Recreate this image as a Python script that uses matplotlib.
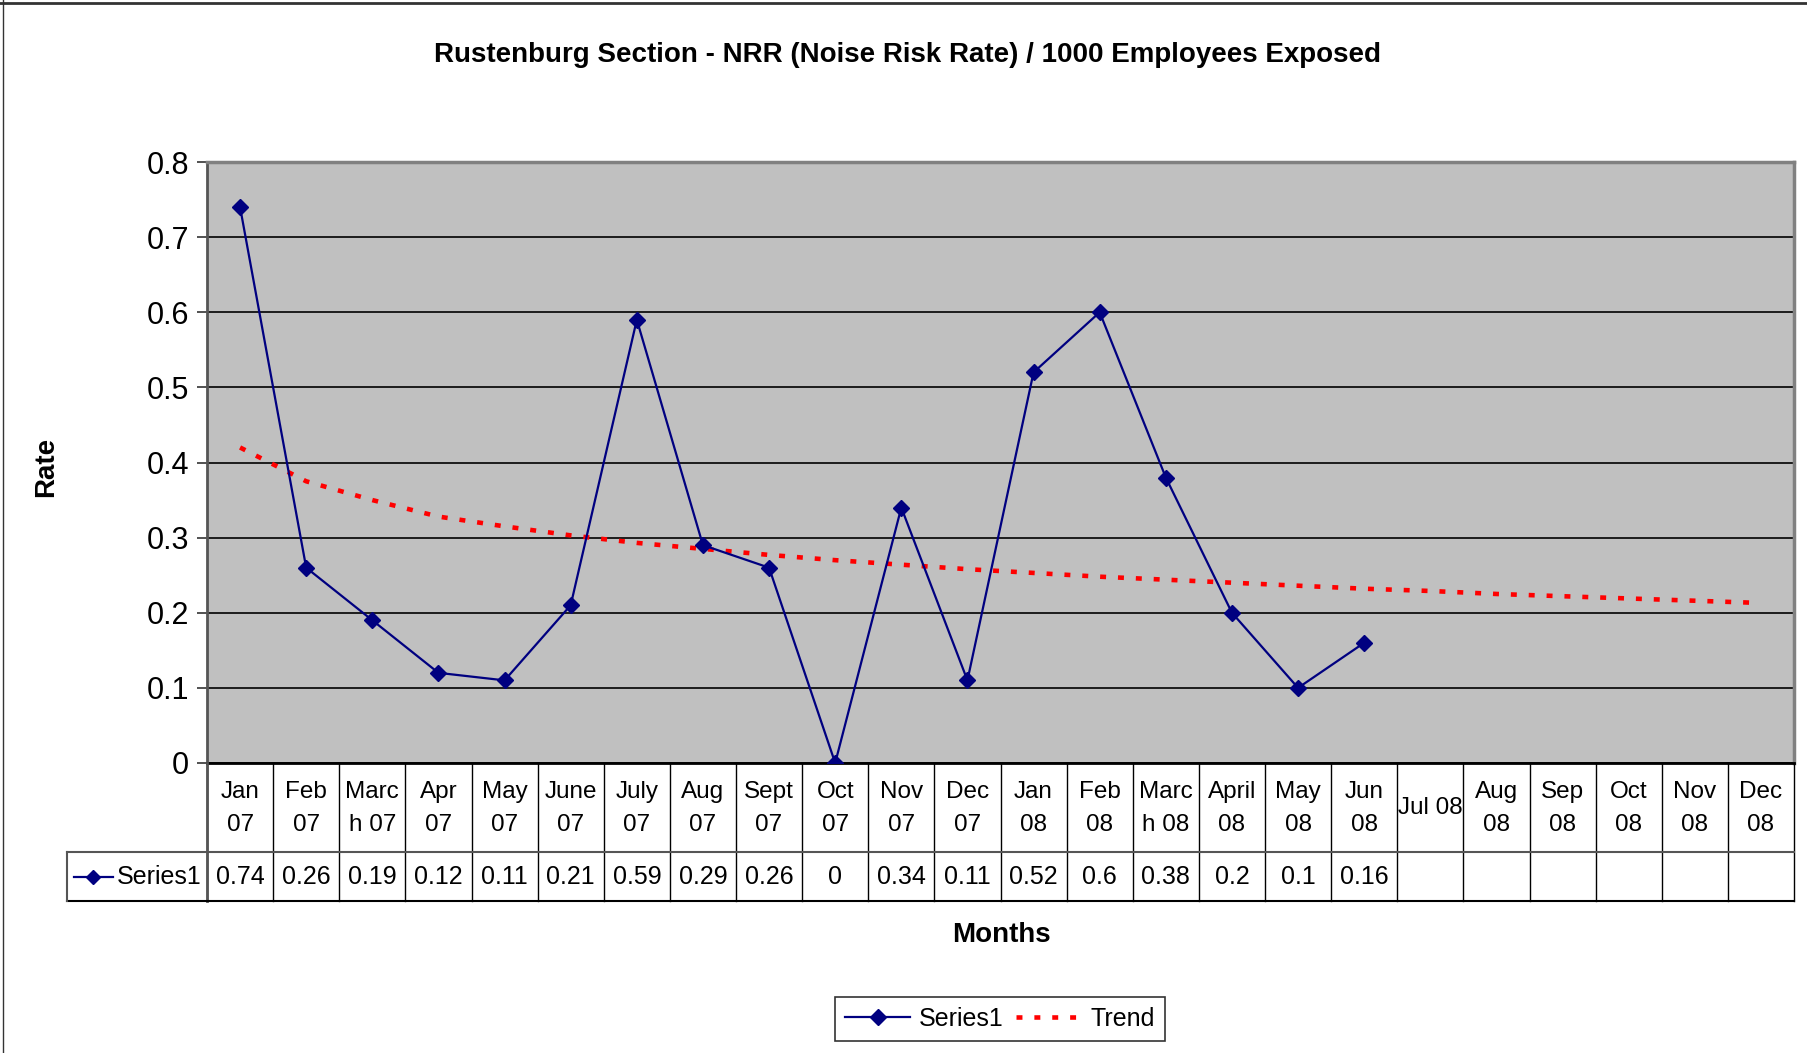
import matplotlib
matplotlib.use("Agg")
import matplotlib.pyplot as plt
from matplotlib.lines import Line2D

plt.rcParams["font.family"] = ["Liberation Sans Narrow", "Liberation Sans", "DejaVu Sans"]

months = ["Jan\n07", "Feb\n07", "Marc\nh 07", "Apr\n07", "May\n07", "June\n07",
          "July\n07", "Aug\n07", "Sept\n07", "Oct\n07", "Nov\n07", "Dec\n07",
          "Jan\n08", "Feb\n08", "Marc\nh 08", "April\n08", "May\n08", "Jun\n08",
          "Jul 08", "Aug\n08", "Sep\n08", "Oct\n08", "Nov\n08", "Dec\n08"]
series1 = [0.74, 0.26, 0.19, 0.12, 0.11, 0.21, 0.59, 0.29, 0.26, 0, 0.34, 0.11,
           0.52, 0.6, 0.38, 0.2, 0.1, 0.16]
# trend line
trend = [0.42, 0.375, 0.35, 0.328, 0.315, 0.303, 0.293, 0.285, 0.277, 0.27, 0.264, 0.258,
         0.253, 0.248, 0.244, 0.240, 0.236, 0.232, 0.229, 0.225, 0.222, 0.219, 0.216, 0.213]

W, H = 1807, 1053
fig = plt.figure(figsize=(W / 100, H / 100), dpi=100)


def px(x0, y0, x1, y1):
    return [x0 / W, 1 - y1 / H, (x1 - x0) / W, (y1 - y0) / H]


left, right, top, bottom = 207, 1794, 162, 763
tab_left, tab_mid, tab_bot = 67, 852, 901

ax = fig.add_axes(px(left, top, right, bottom))
ax.set_facecolor("#c0c0c0")
n = len(months)
ax.set_xlim(-0.5, n - 0.5)
ax.set_ylim(0, 0.8)
ax.set_yticks([0, 0.1, 0.2, 0.3, 0.4, 0.5, 0.6, 0.7, 0.8])
ax.set_yticklabels(["0", "0.1", "0.2", "0.3", "0.4", "0.5", "0.6", "0.7", "0.8"], fontsize=22)
ax.set_xticks([])
ax.tick_params(axis="y", length=7, width=1.2, color="#333333", pad=6)
ax.grid(axis="y", color="black", linewidth=1.2)
ax.set_axisbelow(True)
for s in ["top", "right"]:
    ax.spines[s].set_color("#808080")
    ax.spines[s].set_linewidth(2.5)
ax.spines["left"].set_color("#555555")
ax.spines["left"].set_linewidth(2)
ax.spines["bottom"].set_color("black")
ax.spines["bottom"].set_linewidth(2)

x_trend = list(range(len(trend)))
x_ser = list(range(len(series1)))
ax.plot(x_trend, trend, color="#ff0000", linewidth=3.3, dashes=(1.3, 2.6),
        dash_capstyle="butt", label="Trend", zorder=3)
ax.plot(x_ser, series1, color="#000080", linewidth=1.6, marker="D", markersize=8.5,
        label="Series1", zorder=4)

# data table below the plot
unit = (right - left) / n
tax = fig.add_axes(px(tab_left, bottom, right, tab_bot))
tax.set_xlim(-0.5 - (left - tab_left) / unit, n - 0.5)
tax.set_ylim(tab_bot - bottom, 0)
tax.axis("off")
row1 = tab_mid - bottom
row2 = tab_bot - bottom
for i in range(n + 1):
    tax.plot([i - 0.5, i - 0.5], [0, row2], color="black", linewidth=1, clip_on=False)
tax.plot([-0.5, -0.5], [0, row2], color="#555555", linewidth=2, clip_on=False)
x0 = tax.get_xlim()[0]
tax.plot([x0, n - 0.5], [row1, row1], color="#555555", linewidth=1.5, clip_on=False)
tax.plot([x0, n - 0.5], [row2, row2], color="black", linewidth=1.5, clip_on=False)
tax.plot([x0, x0], [row1, row2], color="#555555", linewidth=1.5, clip_on=False)
for i, lab in enumerate(months):
    tax.text(i, row1 / 2 + 1, lab, ha="center", va="center", fontsize=17.5, linespacing=1.6)
for i, v in enumerate(series1):
    tax.text(i, (row1 + row2) / 2 + 1, f"{v:g}", ha="center", va="center", fontsize=18)
ymid = (row1 + row2) / 2
tax.plot([x0 + 0.1, x0 + 0.7], [ymid, ymid], color="#000080", linewidth=1.6, clip_on=False)
tax.plot([x0 + 0.4], [ymid], color="#000080", marker="D", markersize=7, clip_on=False)
tax.text(-0.58, ymid + 1, "Series1", ha="right", va="center", fontsize=18)

fig.text(907 / W, 1 - 55 / H, "Rustenburg Section - NRR (Noise Risk Rate) / 1000 Employees Exposed",
         ha="center", va="center", fontsize=20, fontweight="bold")
fig.text(1001 / W, 1 - 935 / H, "Months", ha="center", va="center", fontsize=20, fontweight="bold")
fig.text(46 / W, 1 - 467 / H, "Rate", ha="center", va="center", fontsize=20, fontweight="bold",
         rotation=90)

handles = [Line2D([], [], color="#000080", linewidth=1.6, marker="D", markersize=8),
           Line2D([], [], color="#ff0000", linewidth=3.3, dashes=(1.3, 2.6))]
leg = fig.legend(handles, ["Series1", "Trend"], loc="center", bbox_to_anchor=(1000 / W, 1 - 1019 / H),
                 ncol=2, fontsize=18, frameon=True, fancybox=False, handlelength=2.6,
                 columnspacing=0.5, handletextpad=0.35, borderpad=0.4, borderaxespad=0)
leg.get_frame().set_edgecolor("black")
leg.get_frame().set_linewidth(1.2)

fig.add_artist(Line2D([0, 1], [1 - 3 / H, 1 - 3 / H], color="#333333", linewidth=2))
fig.add_artist(Line2D([3 / W, 3 / W], [0, 1], color="#333333", linewidth=1))

fig.savefig("out.png", dpi=100)
